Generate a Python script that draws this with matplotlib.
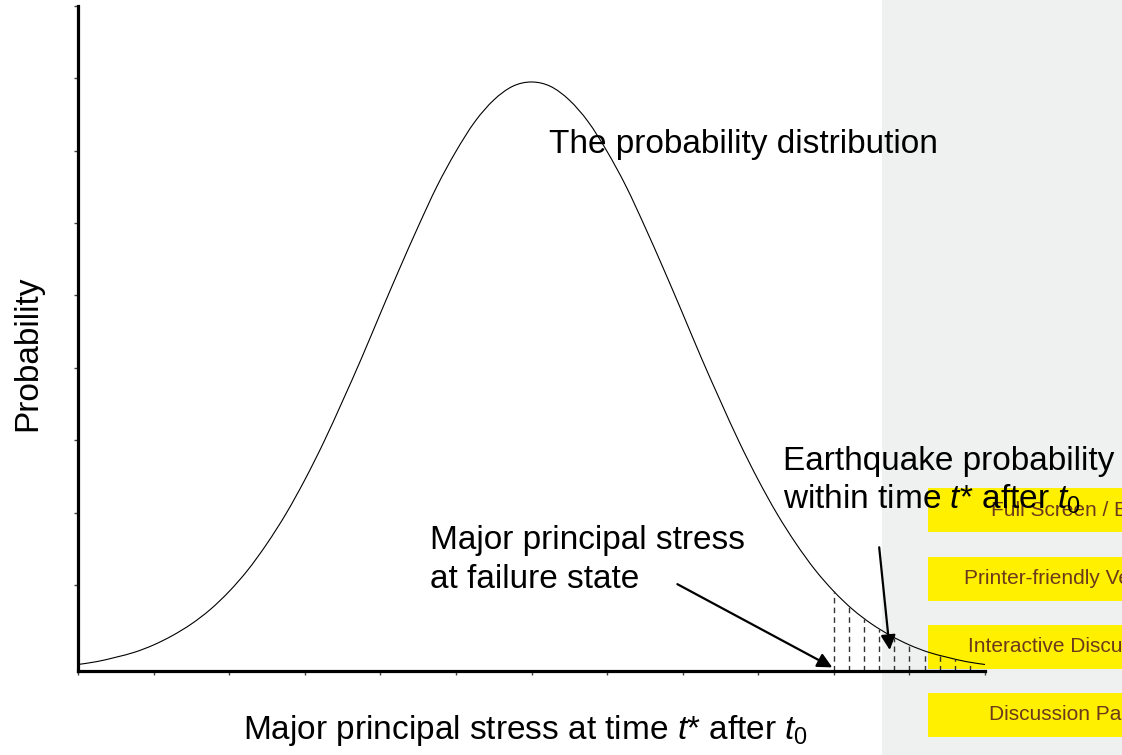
import matplotlib
matplotlib.use("Agg")
import matplotlib.pyplot as plt
from matplotlib.patches import Rectangle, PathPatch
from matplotlib.path import Path

plt.rcParams['font.family'] = ['Liberation Sans', 'DejaVu Sans']
plt.rcParams['mathtext.fontset'] = 'custom'
plt.rcParams['mathtext.rm'] = 'Liberation Sans'
plt.rcParams['mathtext.it'] = 'Liberation Sans:italic'

# ---- data ----
stress = [i * 0.25 for i in range(49)]
half = [0.09, 0.13, 0.19, 0.26, 0.36, 0.49, 0.65, 0.85, 1.10, 1.40, 1.76, 2.17,
        2.64, 3.16, 3.73, 4.32, 4.94, 5.55, 6.14, 6.70, 7.18, 7.59, 7.89, 8.08]
probability = half + [8.14] + half[::-1]

tail_x = [10.0, 10.2, 10.4, 10.6, 10.8, 11.0, 11.2, 11.4, 11.6, 11.8]
tail_y = [1.10, 0.90, 0.72, 0.58, 0.46, 0.36, 0.28, 0.21, 0.16, 0.12]

x_ticks = list(range(13))
y_ticks = [1.19, 2.19, 3.19, 4.19, 5.19, 6.19, 7.19, 8.19, 9.19]

buttons = ["Full Screen / Esc", "Printer-friendly Version",
           "Interactive Discussion", "Discussion Paper"]

W, H = 1122, 755
fig = plt.figure(figsize=(W / 100, H / 100), dpi=100, facecolor='white')

def fx(px):
    return px / W

def fy(py):
    return 1 - py / H

# page side panel
fig.patches.append(Rectangle((fx(882), 0), fx(W - 882), 1, transform=fig.transFigure,
                             facecolor='#eff0f0', edgecolor='none', zorder=0))
btn_tops = [488, 557, 625, 693]
for label, top in zip(buttons, btn_tops):
    fig.patches.append(Rectangle((fx(928), fy(top + 44)), fx(290), 44 / H,
                                 transform=fig.transFigure, facecolor='#fff000',
                                 edgecolor='none', zorder=1))
    fig.text(fx(1070), fy(top + 22), label, ha='center', va='center',
             fontsize=15, color='#6b3a1c', zorder=2)

ax = fig.add_axes([fx(78), fy(671), fx(985 - 78), (671 - 6) / H])
ax.set_facecolor('none')
ax.set_zorder(5)
ax.set_xlim(0, 12)
ax.set_ylim(0, 9.19)

# smooth rendering of the read points (Catmull-Rom -> cubic Bezier segments)
verts = [(stress[0], probability[0])]
codes = [Path.MOVETO]
n = len(stress)
for i in range(n - 1):
    p0 = (stress[max(i - 1, 0)], probability[max(i - 1, 0)])
    p1 = (stress[i], probability[i])
    p2 = (stress[i + 1], probability[i + 1])
    p3 = (stress[min(i + 2, n - 1)], probability[min(i + 2, n - 1)])
    c1 = (p1[0] + (p2[0] - p0[0]) / 6, p1[1] + (p2[1] - p0[1]) / 6)
    c2 = (p2[0] - (p3[0] - p1[0]) / 6, p2[1] - (p3[1] - p1[1]) / 6)
    verts += [c1, c2, p2]
    codes += [Path.CURVE4] * 3
ax.add_patch(PathPatch(Path(verts, codes), facecolor='none', edgecolor='black',
                       lw=0.8, clip_on=False))

ax.vlines(tail_x, 0, tail_y, colors='#333333', linestyles=(0, (4, 3)), lw=1.0)

for s in ['top', 'right']:
    ax.spines[s].set_visible(False)
for s in ['left', 'bottom']:
    ax.spines[s].set_linewidth(2.3)
    ax.spines[s].set_color('black')

ax.set_xticks(x_ticks)
ax.set_yticks(y_ticks)
ax.set_xticklabels([])
ax.set_yticklabels([])
ax.tick_params(direction='out', length=3, width=1, color='#444444')

ap = dict(arrowstyle='-|>', lw=1.6, color='black', mutation_scale=22,
          shrinkA=0, shrinkB=0)
ax.annotate('', xy=(9.98, 0.05), xytext=(7.93, 1.20), arrowprops=ap)
ax.annotate('', xy=(10.74, 0.29), xytext=(10.60, 1.71), arrowprops=ap)

def dtext(px, py, s):
    ax.text((px - 78) / 75.58, (671 - py) / 72.36, s, fontsize=24,
            ha='left', va='baseline', color='black')

dtext(549, 153, 'The probability distribution')
dtext(783, 470, 'Earthquake probability')
dtext(783, 509, r'within time $t$* after $t_{0}$')
dtext(430, 549, 'Major principal stress')
dtext(430, 588, 'at failure state')

fig.text(fx(526), fy(739), r'Major principal stress at time $t$* after $t_{0}$',
         ha='center', va='baseline', fontsize=24)
fig.text(fx(28), fy(353), 'Probability', rotation=90, ha='center', va='center',
         fontsize=24)

fig.savefig('out.png', dpi=100, facecolor='white')
